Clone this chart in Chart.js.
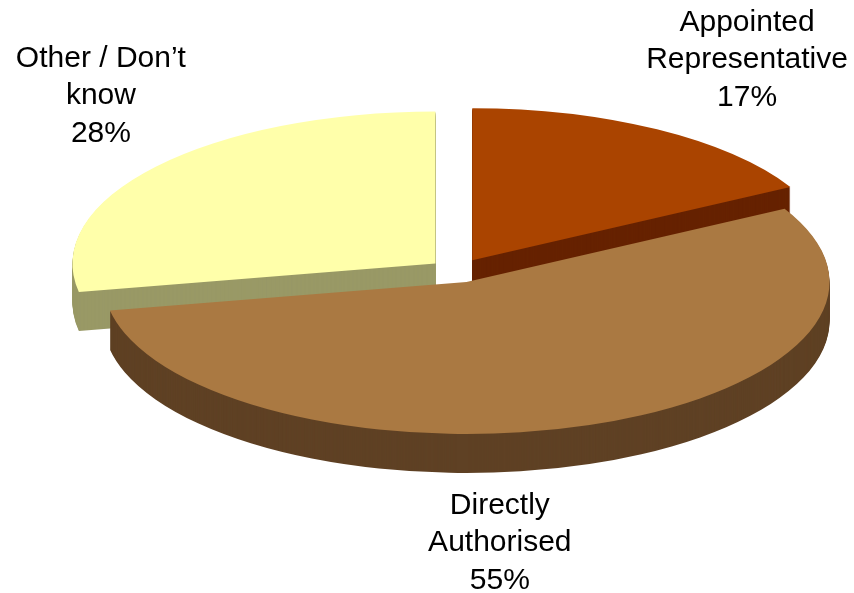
<!DOCTYPE html>
<html>
<head>
<meta charset="utf-8">
<script src="https://cdn.jsdelivr.net/npm/chart.js@4/dist/chart.umd.min.js"></script>
<style>
  html, body { margin: 0; padding: 0; background: #ffffff; }
  canvas { display: block; }
</style>
</head>
<body>
<canvas id="pie" width="854" height="593"></canvas>
<script>
// Share of respondents by authorisation type
const categories = ['Appointed\nRepresentative', 'Directly\nAuthorised', 'Other / Don\u2019t\nknow'];
const shares = [17, 55, 28];

// Slice styling
const topColors  = ['#AA4400', '#AA7942', '#FFFFAA'];
const sideColors = ['#662200', '#5F4124', '#999966'];
const explode    = [30, 28, 28];          // pull-out distance of each slice, px
const drawOrder  = [2, 0, 1];             // back slices first, front slice last
const labelAnchor = [[0.799, -1.388], [0.118, 1.789], [-0.981, -1.151]]; // in radii units

// Projected ellipse of the tilted pie
const RX = 363, RY = 152, DEPTH = 39;
const FONT = '30px "Liberation Sans", Arial, sans-serif';
const LINE_H = 37.5;

const pie3d = {
  id: 'pie3d',
  beforeDatasetDraw() { return false; },   // slices are painted below as extruded faces
  afterDatasetsDraw(chart) {
    const ctx = chart.ctx;
    const meta = chart.getDatasetMeta(0);
    for (const i of drawOrder) {
      const arc = meta.data[i];
      const sx = RX / arc.outerRadius, sy = RY / arc.outerRadius;
      const mid = (arc.startAngle + arc.endAngle) / 2;
      const ox = Math.cos(mid) * explode[i];
      const oy = Math.sin(mid) * explode[i] * RY / RX;
      for (let d = DEPTH; d >= 0; d--) {
        const face = Object.create(arc);
        face.options = Object.assign({}, arc.options, {
          backgroundColor: d ? sideColors[i] : topColors[i],
          borderWidth: 0
        });
        ctx.save();
        ctx.translate(ox, oy + d);
        ctx.translate(arc.x, arc.y);
        ctx.scale(sx, sy);
        ctx.translate(-arc.x, -arc.y);
        face.draw(ctx);
        ctx.restore();
      }
    }
  },
  afterDraw(chart) {
    const ctx = chart.ctx;
    const meta = chart.getDatasetMeta(0);
    const total = shares.reduce((a, b) => a + b, 0);
    ctx.save();
    ctx.font = FONT;
    ctx.fillStyle = '#000000';
    ctx.textAlign = 'center';
    ctx.textBaseline = 'middle';
    meta.data.forEach((arc, i) => {
      const lines = categories[i].split('\n');
      lines.push(Math.round(shares[i] / total * 100) + '%');
      const cx = arc.x + labelAnchor[i][0] * RX;
      const cy = arc.y + labelAnchor[i][1] * RY;
      const y0 = cy - (lines.length - 1) / 2 * LINE_H;
      lines.forEach((t, k) => ctx.fillText(t, cx, y0 + k * LINE_H));
    });
    ctx.restore();
  }
};

new Chart(document.getElementById('pie'), {
  type: 'pie',
  data: {
    labels: categories,
    datasets: [{
      data: shares,
      backgroundColor: topColors,
      borderWidth: 0
    }]
  },
  options: {
    responsive: false,
    animation: false,
    layout: { padding: { left: 60, right: 0, top: 0, bottom: 51 } },
    plugins: {
      legend: { display: false },
      tooltip: { enabled: false }
    }
  },
  plugins: [pie3d]
});
</script>
</body>
</html>
